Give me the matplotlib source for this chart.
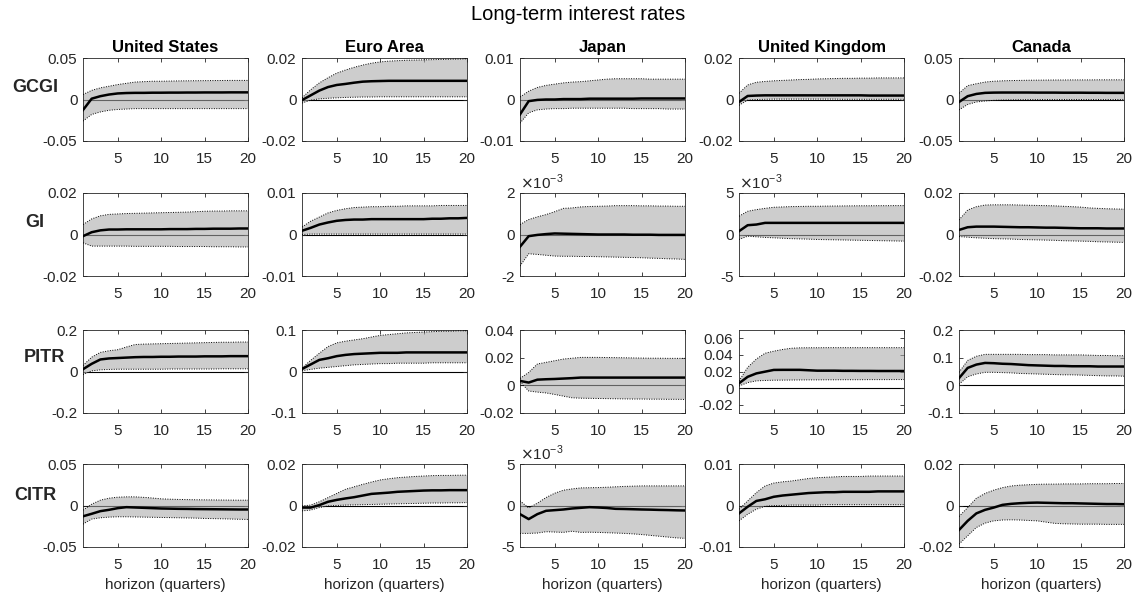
import numpy as np
import matplotlib
matplotlib.use("Agg")
import matplotlib.pyplot as plt

plt.rcParams['font.family'] = ['Liberation Sans', 'DejaVu Sans']
plt.rcParams['axes.unicode_minus'] = False

horizon = np.arange(1, 21)
countries = ["United States", "Euro Area", "Japan", "United Kingdom", "Canada"]
shocks = ["GCGI", "GI", "PITR", "CITR"]
suptitle = "Long-term interest rates"
xlab = "horizon (quarters)"

# ---- GCGI ----
gcgi_med = [
    [-0.0127, 0.001, 0.004, 0.006, 0.0073, 0.0078, 0.008, 0.008, 0.0082, 0.0082, 0.0083, 0.0083, 0.0084, 0.0084, 0.0085, 0.0085, 0.0085, 0.0086, 0.0086, 0.0086],
    [-0.0003, 0.002, 0.0043, 0.006, 0.007, 0.0075, 0.0081, 0.0086, 0.0088, 0.0089, 0.009, 0.009, 0.009, 0.009, 0.009, 0.009, 0.009, 0.009, 0.009, 0.009],
    [-0.0036, -0.0004, -0.0001, 0.0, 0.0, 0.0001, 0.0001, 0.0001, 0.0002, 0.0002, 0.0002, 0.0002, 0.0002, 0.0002, 0.00025, 0.00025, 0.00025, 0.00025, 0.00025, 0.00025],
    [-0.0012, 0.0017, 0.0019, 0.002, 0.002, 0.002, 0.002, 0.002, 0.002, 0.002, 0.002, 0.002, 0.002, 0.002, 0.002, 0.0019, 0.0019, 0.0019, 0.0019, 0.0019],
    [-0.003, 0.004, 0.0067, 0.008, 0.0083, 0.0084, 0.0084, 0.0084, 0.0084, 0.0083, 0.0083, 0.0083, 0.0082, 0.0082, 0.0082, 0.0081, 0.0081, 0.008, 0.008, 0.008],
]
gcgi_hi = [
    [0.006, 0.011, 0.014, 0.016, 0.018, 0.0195, 0.021, 0.0215, 0.022, 0.022, 0.0222, 0.0224, 0.0225, 0.0226, 0.0227, 0.0228, 0.0229, 0.023, 0.023, 0.023],
    [0.0008, 0.0047, 0.008, 0.0105, 0.0127, 0.0142, 0.0155, 0.0166, 0.0175, 0.0181, 0.0185, 0.0187, 0.0189, 0.019, 0.0191, 0.0192, 0.0193, 0.0194, 0.0195, 0.0196],
    [0.0006, 0.002, 0.0029, 0.0034, 0.0037, 0.004, 0.0042, 0.0043, 0.0045, 0.0047, 0.0049, 0.005, 0.005, 0.005, 0.005, 0.0049, 0.0049, 0.0049, 0.0049, 0.0049],
    [0.003, 0.007, 0.0083, 0.0087, 0.009, 0.0092, 0.0094, 0.0096, 0.0097, 0.0099, 0.01, 0.0101, 0.0102, 0.0102, 0.0103, 0.0103, 0.0104, 0.0104, 0.0104, 0.0104],
    [0.0075, 0.0167, 0.019, 0.021, 0.022, 0.0225, 0.0228, 0.023, 0.0232, 0.0233, 0.0234, 0.0235, 0.0235, 0.0236, 0.0236, 0.0236, 0.0237, 0.0237, 0.0237, 0.0237],
]
gcgi_lo = [
    [-0.026, -0.018, -0.015, -0.013, -0.012, -0.0115, -0.011, -0.011, -0.011, -0.011, -0.011, -0.011, -0.011, -0.011, -0.011, -0.011, -0.011, -0.011, -0.011, -0.011],
    [-0.0017, -0.0003, 0.0003, 0.0006, 0.0008, 0.001, 0.0011, 0.0012, 0.0012, 0.0013, 0.0013, 0.0013, 0.0013, 0.0013, 0.0013, 0.0013, 0.0013, 0.0013, 0.0013, 0.0013],
    [-0.0057, -0.0032, -0.0025, -0.0023, -0.0022, -0.0022, -0.0021, -0.0021, -0.0021, -0.0021, -0.0021, -0.0021, -0.0021, -0.0022, -0.0022, -0.0022, -0.0022, -0.0023, -0.0023, -0.0023],
    [-0.0028, -0.0003, 0.0, 0.0001, 0.0002, 0.0002, 0.0002, 0.0002, 0.0002, 0.0002, 0.0002, 0.0002, 0.0001, 0.0001, 0.0001, 0.0001, 0.0001, 0.0001, 0.0001, 0.0001],
    [-0.0125, -0.006, -0.003, -0.0018, -0.001, -0.0006, -0.0004, -0.0002, -0.0001, 0.0, 0.0, 0.0, 0.0, 0.0, 0.0, 0.0, 0.0, 0.0, 0.0, 0.0],
]

# ---- GI ----
gi_med = [
    [-0.0008, 0.0011, 0.002, 0.0024, 0.0024, 0.0025, 0.0025, 0.0025, 0.0025, 0.0025, 0.0026, 0.0026, 0.0026, 0.0027, 0.0027, 0.0028, 0.0028, 0.0028, 0.0029, 0.0029],
    [0.0009, 0.0016, 0.0024, 0.0029, 0.0033, 0.0035, 0.0036, 0.0036, 0.0037, 0.0037, 0.0037, 0.0037, 0.0037, 0.0037, 0.0037, 0.0038, 0.0038, 0.0039, 0.0039, 0.004],
    list(np.array([-0.59, -0.08, -0.02, 0.02, 0.05, 0.04, 0.03, 0.02, 0.01, 0.0, 0.0, 0.0, 0.0, -0.01, -0.01, -0.01, -0.02, -0.02, -0.02, -0.02]) * 1e-3),
    list(np.array([0.4, 1.12, 1.2, 1.4, 1.4, 1.4, 1.4, 1.4, 1.4, 1.4, 1.4, 1.4, 1.4, 1.4, 1.4, 1.4, 1.4, 1.4, 1.4, 1.4]) * 1e-3),
    [0.0022, 0.0035, 0.0038, 0.0038, 0.0038, 0.0037, 0.0036, 0.0035, 0.0035, 0.0034, 0.0033, 0.0033, 0.0032, 0.0031, 0.003, 0.003, 0.003, 0.0029, 0.0029, 0.0029],
]
gi_hi = [
    [0.0048, 0.0075, 0.009, 0.0097, 0.0099, 0.0101, 0.0102, 0.0103, 0.0104, 0.0105, 0.0106, 0.0107, 0.0108, 0.011, 0.0112, 0.0113, 0.0113, 0.0114, 0.0114, 0.0114],
    [0.0018, 0.0032, 0.0042, 0.0052, 0.0058, 0.0062, 0.0065, 0.0066, 0.0067, 0.0067, 0.0068, 0.0068, 0.0069, 0.0069, 0.0069, 0.0069, 0.007, 0.007, 0.007, 0.007],
    list(np.array([0.48, 0.72, 0.85, 0.96, 1.1, 1.26, 1.28, 1.33, 1.35, 1.36, 1.37, 1.39, 1.39, 1.39, 1.38, 1.38, 1.37, 1.37, 1.36, 1.36]) * 1e-3),
    list(np.array([2.2, 2.8, 3.0, 3.15, 3.28, 3.32, 3.36, 3.38, 3.4, 3.4, 3.42, 3.43, 3.44, 3.45, 3.46, 3.46, 3.47, 3.47, 3.48, 3.48]) * 1e-3),
    [0.007, 0.0118, 0.0134, 0.0142, 0.0143, 0.0143, 0.0143, 0.0142, 0.0141, 0.014, 0.0139, 0.0138, 0.0136, 0.0134, 0.0132, 0.0128, 0.0126, 0.0124, 0.0123, 0.0122],
]
gi_lo = [
    [-0.004, -0.0056, -0.0056, -0.0056, -0.0056, -0.0056, -0.0057, -0.0057, -0.0057, -0.0057, -0.0057, -0.0058, -0.0058, -0.0058, -0.0058, -0.0059, -0.0059, -0.0059, -0.006, -0.006],
    [0.0, 0.0001, 0.0001, 0.0001, 0.0001, 0.0001, 0.0001, 0.0001, 0.0001, 0.0001, 0.0001, 0.0001, 0.0001, 0.0001, 0.0001, 0.0001, 0.0001, 0.0001, 0.0001, 0.0001],
    list(np.array([-1.52, -0.93, -0.96, -1.0, -1.04, -1.05, -1.05, -1.06, -1.06, -1.07, -1.08, -1.09, -1.1, -1.11, -1.12, -1.14, -1.15, -1.17, -1.18, -1.2]) * 1e-3),
    list(np.array([-0.6, -0.2, -0.28, -0.35, -0.4, -0.45, -0.5, -0.53, -0.56, -0.6, -0.62, -0.64, -0.66, -0.68, -0.7, -0.72, -0.74, -0.76, -0.78, -0.8]) * 1e-3),
    [-0.001, -0.0013, -0.0016, -0.0018, -0.002, -0.0021, -0.0022, -0.0024, -0.0025, -0.0026, -0.0027, -0.0028, -0.003, -0.0031, -0.0032, -0.0033, -0.0035, -0.0036, -0.0037, -0.0038],
]

# ---- PITR ----
pitr_med = [
    [0.011, 0.037, 0.058, 0.063, 0.065, 0.067, 0.069, 0.07, 0.07, 0.071, 0.071, 0.072, 0.072, 0.072, 0.073, 0.073, 0.073, 0.074, 0.074, 0.074],
    [0.006, 0.017, 0.028, 0.032, 0.037, 0.04, 0.042, 0.043, 0.044, 0.045, 0.045, 0.045, 0.046, 0.046, 0.046, 0.046, 0.046, 0.046, 0.046, 0.046],
    [0.0032, 0.002, 0.0041, 0.0044, 0.0046, 0.0049, 0.0052, 0.0056, 0.0056, 0.0056, 0.0056, 0.0056, 0.0056, 0.0056, 0.0056, 0.0056, 0.0056, 0.0056, 0.0056, 0.0056],
    [0.0058, 0.0136, 0.0177, 0.0198, 0.0219, 0.022, 0.022, 0.022, 0.0215, 0.021, 0.021, 0.021, 0.0208, 0.0208, 0.0207, 0.0207, 0.0206, 0.0206, 0.0206, 0.0206],
    [0.026, 0.063, 0.075, 0.081, 0.08, 0.078, 0.077, 0.075, 0.073, 0.072, 0.071, 0.07, 0.07, 0.069, 0.069, 0.069, 0.068, 0.068, 0.068, 0.068],
]
pitr_hi = [
    [0.029, 0.069, 0.092, 0.1, 0.105, 0.118, 0.13, 0.132, 0.133, 0.134, 0.135, 0.136, 0.137, 0.138, 0.139, 0.14, 0.141, 0.141, 0.142, 0.142],
    [0.008, 0.027, 0.044, 0.06, 0.069, 0.073, 0.076, 0.079, 0.083, 0.087, 0.089, 0.091, 0.093, 0.094, 0.095, 0.096, 0.097, 0.097, 0.098, 0.098],
    [0.005, 0.0093, 0.0154, 0.0166, 0.0178, 0.019, 0.0196, 0.0202, 0.0202, 0.0202, 0.0201, 0.02, 0.0199, 0.0198, 0.0197, 0.0196, 0.0196, 0.0195, 0.0195, 0.0195],
    [0.0087, 0.025, 0.035, 0.042, 0.0445, 0.0465, 0.048, 0.0485, 0.0486, 0.0486, 0.0487, 0.0487, 0.0487, 0.0487, 0.0487, 0.0487, 0.0487, 0.0487, 0.0487, 0.0487],
    [0.047, 0.09, 0.105, 0.112, 0.112, 0.112, 0.112, 0.112, 0.111, 0.111, 0.111, 0.11, 0.11, 0.11, 0.11, 0.109, 0.108, 0.108, 0.107, 0.107],
]
pitr_lo = [
    [-0.015, 0.003, 0.008, 0.01, 0.011, 0.011, 0.011, 0.011, 0.011, 0.011, 0.012, 0.012, 0.012, 0.012, 0.012, 0.012, 0.013, 0.013, 0.013, 0.013],
    [0.002, 0.005, 0.008, 0.01, 0.012, 0.014, 0.016, 0.017, 0.018, 0.019, 0.019, 0.02, 0.02, 0.02, 0.02, 0.021, 0.021, 0.021, 0.021, 0.021],
    [0.0027, -0.0041, -0.0049, -0.0055, -0.0066, -0.0078, -0.009, -0.0093, -0.0094, -0.0095, -0.0096, -0.0097, -0.0098, -0.0099, -0.0099, -0.01, -0.01, -0.0101, -0.0101, -0.0102],
    [0.0025, 0.0066, 0.0087, 0.0092, 0.0095, 0.0096, 0.0097, 0.0098, 0.0099, 0.0099, 0.01, 0.01, 0.0101, 0.0101, 0.0101, 0.0102, 0.0102, 0.0102, 0.0103, 0.0103],
    [0.004, 0.031, 0.041, 0.047, 0.047, 0.046, 0.045, 0.043, 0.042, 0.041, 0.04, 0.039, 0.038, 0.038, 0.037, 0.036, 0.035, 0.034, 0.034, 0.033],
]

# ---- CITR ----
citr_med = [
    [-0.013, -0.01, -0.0068, -0.0052, -0.0032, -0.002, -0.0024, -0.0028, -0.0032, -0.0036, -0.0038, -0.004, -0.0041, -0.0043, -0.0044, -0.0045, -0.0046, -0.0047, -0.0048, -0.0048],
    [-0.001, -0.001, 0.0002, 0.0018, 0.0027, 0.0034, 0.004, 0.0048, 0.0056, 0.0059, 0.0062, 0.0066, 0.0068, 0.007, 0.0072, 0.0073, 0.0073, 0.0074, 0.0074, 0.0074],
    list(np.array([-1.04, -1.64, -1.04, -0.64, -0.56, -0.48, -0.36, -0.28, -0.2, -0.24, -0.3, -0.4, -0.42, -0.45, -0.48, -0.5, -0.53, -0.55, -0.58, -0.6]) * 1e-3),
    [-0.0019, -0.0003, 0.0011, 0.0015, 0.0021, 0.0024, 0.0026, 0.0028, 0.003, 0.0031, 0.0032, 0.0032, 0.0033, 0.0033, 0.0033, 0.0033, 0.0034, 0.0034, 0.0034, 0.0034],
    [-0.0118, -0.0074, -0.0038, -0.0021, -0.001, 0.0003, 0.0008, 0.0011, 0.0013, 0.0014, 0.0013, 0.0012, 0.0011, 0.0011, 0.001, 0.0009, 0.0008, 0.0007, 0.0007, 0.0006],
]
citr_hi = [
    [-0.0056, 0.0016, 0.0064, 0.0088, 0.01, 0.0104, 0.0104, 0.0098, 0.009, 0.008, 0.0076, 0.0073, 0.0071, 0.0069, 0.0068, 0.0067, 0.0066, 0.0065, 0.0064, 0.0064],
    [-0.0002, 0.0002, 0.0018, 0.0038, 0.0058, 0.0078, 0.009, 0.0102, 0.0113, 0.0123, 0.0129, 0.0134, 0.0137, 0.014, 0.0142, 0.0144, 0.0145, 0.0145, 0.0146, 0.0146],
    list(np.array([0.56, -0.3, 0.28, 0.96, 1.48, 1.84, 2.0, 2.12, 2.14, 2.16, 2.2, 2.25, 2.3, 2.33, 2.36, 2.36, 2.36, 2.36, 2.36, 2.36]) * 1e-3),
    [-0.0009, 0.0011, 0.0031, 0.0047, 0.0054, 0.0057, 0.0059, 0.0062, 0.0065, 0.0067, 0.0068, 0.0069, 0.007, 0.007, 0.007, 0.0071, 0.0071, 0.0071, 0.0071, 0.0071],
    [-0.0053, -0.001, 0.0035, 0.0058, 0.0074, 0.0086, 0.0094, 0.0098, 0.01, 0.0102, 0.0103, 0.0103, 0.0104, 0.0104, 0.0104, 0.0105, 0.0105, 0.0105, 0.0106, 0.0106],
]
citr_lo = [
    [-0.0224, -0.0164, -0.0148, -0.014, -0.0136, -0.0136, -0.0138, -0.014, -0.0142, -0.0144, -0.0146, -0.0148, -0.015, -0.0152, -0.0156, -0.0158, -0.016, -0.0163, -0.0166, -0.0168],
    [-0.0026, -0.0022, -0.001, -0.0002, 0.0, 0.0002, 0.0003, 0.0004, 0.0005, 0.0006, 0.0007, 0.0008, 0.0009, 0.001, 0.0011, 0.0012, 0.0012, 0.0013, 0.0013, 0.0014],
    list(np.array([-3.36, -3.36, -3.32, -3.16, -3.2, -3.24, -3.1, -3.24, -3.22, -3.24, -3.28, -3.32, -3.36, -3.42, -3.5, -3.6, -3.7, -3.8, -3.9, -3.96]) * 1e-3),
    [-0.0037, -0.0021, -0.0009, -0.0002, 0.0, 0.0, 0.0001, 0.0001, 0.0001, 0.0001, 0.0002, 0.0002, 0.0002, 0.0002, 0.0002, 0.0002, 0.0002, 0.0002, 0.0002, 0.0002],
    [-0.0186, -0.0146, -0.0106, -0.0085, -0.0074, -0.007, -0.0069, -0.007, -0.0072, -0.0074, -0.008, -0.0086, -0.0088, -0.0089, -0.009, -0.009, -0.009, -0.0091, -0.0091, -0.0091],
]

meds = [gcgi_med, gi_med, pitr_med, citr_med]
his = [gcgi_hi, gi_hi, pitr_hi, citr_hi]
los = [gcgi_lo, gi_lo, pitr_lo, citr_lo]

# y ticks per panel (first and last give the limits unless noted)
yticks = [
    [[-0.05, 0, 0.05], [-0.02, 0, 0.02], [-0.01, 0, 0.01], [-0.02, 0, 0.02], [-0.05, 0, 0.05]],
    [[-0.02, 0, 0.02], [-0.01, 0, 0.01], [-2e-3, 0, 2e-3], [-5e-3, 0, 5e-3], [-0.02, 0, 0.02]],
    [[-0.2, 0, 0.2], [-0.1, 0, 0.1], [-0.02, 0, 0.02, 0.04], [-0.02, 0, 0.02, 0.04, 0.06], [-0.1, 0, 0.1, 0.2]],
    [[-0.05, 0, 0.05], [-0.02, 0, 0.02], [-5e-3, 0, 5e-3], [-0.01, 0, 0.01], [-0.02, 0, 0.02]],
]
ylims = {(2, 3): (-0.03, 0.07)}
scaled = {(1, 2), (1, 3), (3, 2)}

W, H = 1138, 602
fig = plt.figure(figsize=(W / 100, H / 100), dpi=100)

col_left = [83, 302, 520, 739, 959]
row_top = [58, 193, 330, 464]
aw, ah = 165, 83
dark = '#262626'

for r in range(4):
    for c in range(5):
        ax = fig.add_axes([col_left[c] / W, 1 - (row_top[r] + ah) / H, aw / W, ah / H])
        med = np.array(meds[r][c])
        hi = np.array(his[r][c])
        lo = np.array(los[r][c])
        ax.axhline(0, color='black', lw=0.8, zorder=1)
        ax.fill_between(horizon, lo, hi, facecolor=(0.667, 0.667, 0.667), alpha=0.58,
                        edgecolor='none', zorder=2)
        ax.plot(horizon, hi, color='black', lw=0.7, ls=(0, (1, 1.5)), zorder=3)
        ax.plot(horizon, lo, color='black', lw=0.7, ls=(0, (1, 1.5)), zorder=3)
        ax.plot(horizon, med, color='black', lw=1.8, zorder=4)

        yt = yticks[r][c]
        ax.set_xlim(1, 20)
        ax.set_ylim(ylims.get((r, c), (yt[0], yt[-1])))
        ax.set_xticks([5, 10, 15, 20])
        ax.set_yticks(yt)
        if (r, c) in scaled:
            ax.set_yticklabels(['%g' % round(v * 1e3, 6) for v in yt])
            ax.text(0.0, 1.01, r'$\times$10$^{\mathregular{-3}}$', transform=ax.transAxes,
                    fontsize=11, color=dark, ha='left', va='bottom')
        else:
            ax.set_yticklabels(['%g' % v for v in yt])
        ax.tick_params(direction='in', length=3, width=0.6, top=True, right=True,
                       labelsize=11, colors=dark)
        ax.tick_params(axis='x', pad=8)
        ax.tick_params(axis='y', pad=4)
        for sp in ax.spines.values():
            sp.set_color(dark)
            sp.set_linewidth(0.6)
        if r == 0:
            ax.set_title(countries[c], fontsize=12, fontweight='bold', pad=4)
        if r == 3:
            ax.set_xlabel(xlab, fontsize=11, color=dark, labelpad=4)

# row labels
label_x = [35, 35, 44, 35]
label_y = [88, 223, 358, 496]
for r in range(4):
    fig.text(label_x[r] / W, 1 - label_y[r] / H, shocks[r], fontsize=13,
             fontweight='bold', ha='center', va='center', color=dark)

fig.text(578 / W, 1 - 15 / H, suptitle, fontsize=14.5, ha='center', va='center')

fig.savefig('out.png', dpi=100)
